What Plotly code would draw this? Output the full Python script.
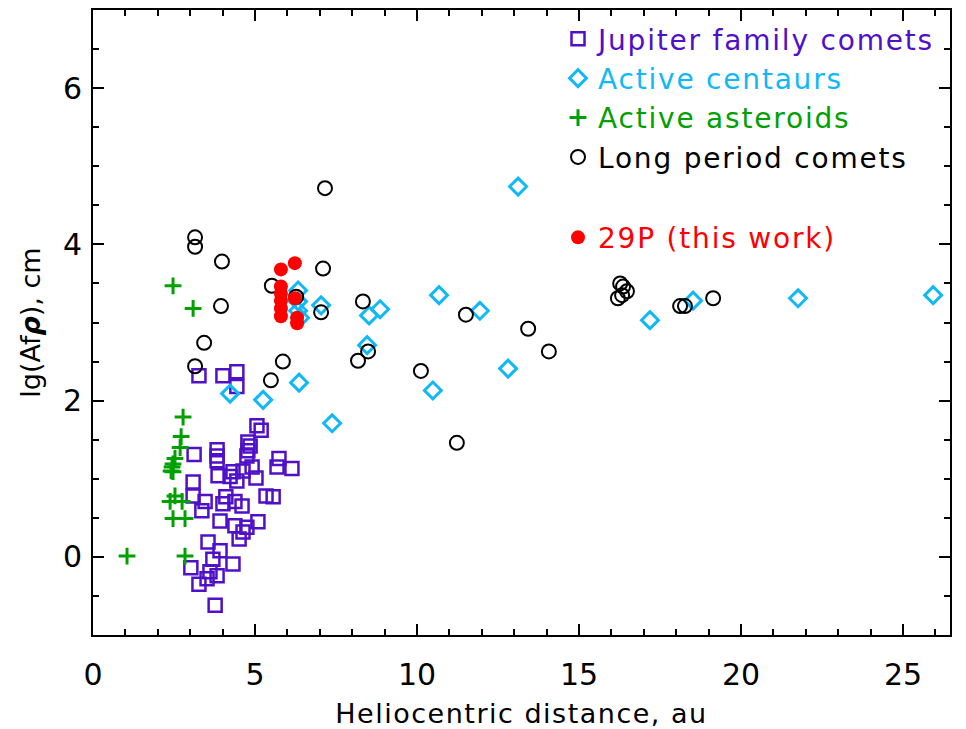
import plotly.graph_objects as go

# Jupiter family comets
jfc_r = [3.27, 4.01, 4.44, 4.44, 5.06, 5.19, 4.78, 4.85, 4.78, 4.75, 3.12, 3.83, 3.83, 3.83,
         5.74, 5.68, 6.14, 4.91, 4.63, 4.32, 3.86, 4.23, 4.44, 5.03, 3.09, 3.09, 3.46, 3.36,
         4.10, 4.01, 4.38, 4.60, 5.34, 5.56, 3.92, 4.38, 4.75, 5.09, 4.63, 4.51, 3.55, 3.92,
         3.70, 4.32, 3.02, 3.61, 3.83, 3.52, 3.27, 3.77]
jfc_a = [2.32, 2.32, 2.37, 2.18, 1.68, 1.62, 1.47, 1.42, 1.36, 1.29, 1.31, 1.37, 1.29, 1.23,
         1.26, 1.15, 1.13, 1.15, 1.10, 1.09, 1.04, 1.03, 0.97, 1.01, 0.96, 0.78, 0.71, 0.59,
         0.77, 0.68, 0.71, 0.65, 0.78, 0.77, 0.46, 0.40, 0.38, 0.45, 0.32, 0.23, 0.19, 0.08,
         -0.03, -0.09, -0.14, -0.19, -0.24, -0.28, -0.35, -0.62]

# Active centaurs
cen_r = [13.12, 10.68, 11.94, 8.86, 8.52, 7.04, 8.46, 12.81, 10.49, 7.38, 6.36, 17.19,
         18.52, 21.76, 25.93, 6.33, 6.33, 6.33, 6.39, 4.23, 5.25]
cen_a = [4.74, 3.35, 3.15, 3.17, 3.09, 3.22, 2.71, 2.41, 2.13, 1.71, 2.23, 3.03,
         3.28, 3.31, 3.35, 3.41, 3.27, 3.15, 3.06, 2.09, 2.01]

# Active asteroids
ast_r = [2.47, 3.09, 2.78, 2.72, 2.69, 2.53, 2.47, 2.44, 2.41, 2.47, 2.53, 2.38, 2.75,
         2.47, 2.84, 1.05, 2.84]
ast_a = [3.47, 3.18, 1.79, 1.54, 1.40, 1.26, 1.19, 1.15, 1.10, 1.09, 0.78, 0.71, 0.71,
         0.49, 0.49, 0.01, 0.01]

# Long period comets
lpc_r = [7.16, 3.15, 3.15, 3.98, 7.10, 5.52, 3.95, 6.27, 7.04, 8.33, 3.43, 3.15, 5.86,
         5.49, 8.49, 8.18, 10.12, 11.23, 11.51, 13.43, 14.07, 16.27, 16.36, 16.48, 16.20,
         16.33, 18.12, 18.27, 19.14]
lpc_a = [4.72, 4.09, 3.97, 3.78, 3.69, 3.47, 3.21, 3.33, 3.13, 3.27, 2.74, 2.44, 2.50,
         2.26, 2.63, 2.51, 2.38, 1.46, 3.10, 2.92, 2.63, 3.50, 3.46, 3.40, 3.31,
         3.35, 3.21, 3.21, 3.31]

# 29P (this work)
p29_r = [5.80, 6.23, 5.80, 5.80, 5.80, 5.80, 5.80, 6.23, 6.30, 6.30]
p29_a = [3.68, 3.76, 3.46, 3.37, 3.28, 3.18, 3.08, 3.31, 3.06, 2.99]

x_ticks = [0, 5, 10, 15, 20, 25]
y_ticks = [0, 2, 4, 6]

PURPLE = "#5010c8"
CYAN = "#10b8f8"
GREEN = "#00a000"
BLACK = "#000000"
RED = "#ff0000"
FONT = "DejaVu Sans"

def label(text, color):
    return f"<span style='color:{color};letter-spacing:1.8px'>{text}</span>"

fig = go.Figure()
fig.add_trace(go.Scatter(x=jfc_r, y=jfc_a, mode="markers", name=label("Jupiter family comets", PURPLE),
                         legendgroup="a",
                         marker=dict(symbol="square-open", size=13, color=PURPLE, line=dict(width=2.5, color=PURPLE))))
fig.add_trace(go.Scatter(x=cen_r, y=cen_a, mode="markers", name=label("Active centaurs", CYAN),
                         legendgroup="a",
                         marker=dict(symbol="diamond-open", size=13, color=CYAN, line=dict(width=3, color=CYAN))))
fig.add_trace(go.Scatter(x=ast_r, y=ast_a, mode="markers", name=label("Active asteroids", GREEN),
                         legendgroup="a",
                         marker=dict(symbol="cross-thin-open", size=12, color=GREEN, line=dict(width=3, color=GREEN))))
fig.add_trace(go.Scatter(x=lpc_r, y=lpc_a, mode="markers", name=label("Long period comets", BLACK),
                         legendgroup="a",
                         marker=dict(symbol="circle-open", size=14, color=BLACK, line=dict(width=2, color=BLACK))))
fig.add_trace(go.Scatter(x=p29_r, y=p29_a, mode="markers", name=label("29P (this work)", RED),
                         legendgroup="b",
                         marker=dict(symbol="circle", size=14, color=RED, line=dict(width=0))))

axis_common = dict(
    showgrid=False, zeroline=False, showline=True, linecolor="black", linewidth=2,
    mirror="allticks", ticks="inside", ticklen=11, tickwidth=1.5, tickcolor="black",
    tickfont=dict(family=FONT, size=30, color="black"), automargin=False,
)

fig.update_xaxes(range=[0, 26.45], tickvals=x_ticks, ticktext=[str(v) for v in x_ticks],
                 ticklabelstandoff=12,
                 minor=dict(dtick=1, ticks="inside", ticklen=6, tickwidth=1.5, tickcolor="black"),
                 title=dict(text="<span style='letter-spacing:1.5px'>Heliocentric distance, au</span>",
                            font=dict(family=FONT, size=27, color="black"), standoff=15),
                 **axis_common)
fig.update_yaxes(range=[-1, 7], tickvals=y_ticks, ticktext=[str(v) for v in y_ticks],
                 ticklabelstandoff=3,
                 minor=dict(dtick=0.5, ticks="inside", ticklen=6, tickwidth=1.5, tickcolor="black"),
                 title=dict(text="lg(Af<b><i>ρ</i></b>), cm", font=dict(family=FONT, size=27, color="black"),
                            standoff=14),
                 **axis_common)

fig.update_layout(
    width=966, height=729,
    margin=dict(l=93, r=16, t=10, b=94),
    paper_bgcolor="white", plot_bgcolor="white",
    showlegend=True,
    legend=dict(x=0.5426, y=0.9935, xanchor="left", yanchor="top",
                bgcolor="rgba(0,0,0,0)", borderwidth=0,
                font=dict(family=FONT, size=28, color="black"),
                tracegroupgap=41, itemwidth=30),
)

fig.write_html("out.html")
